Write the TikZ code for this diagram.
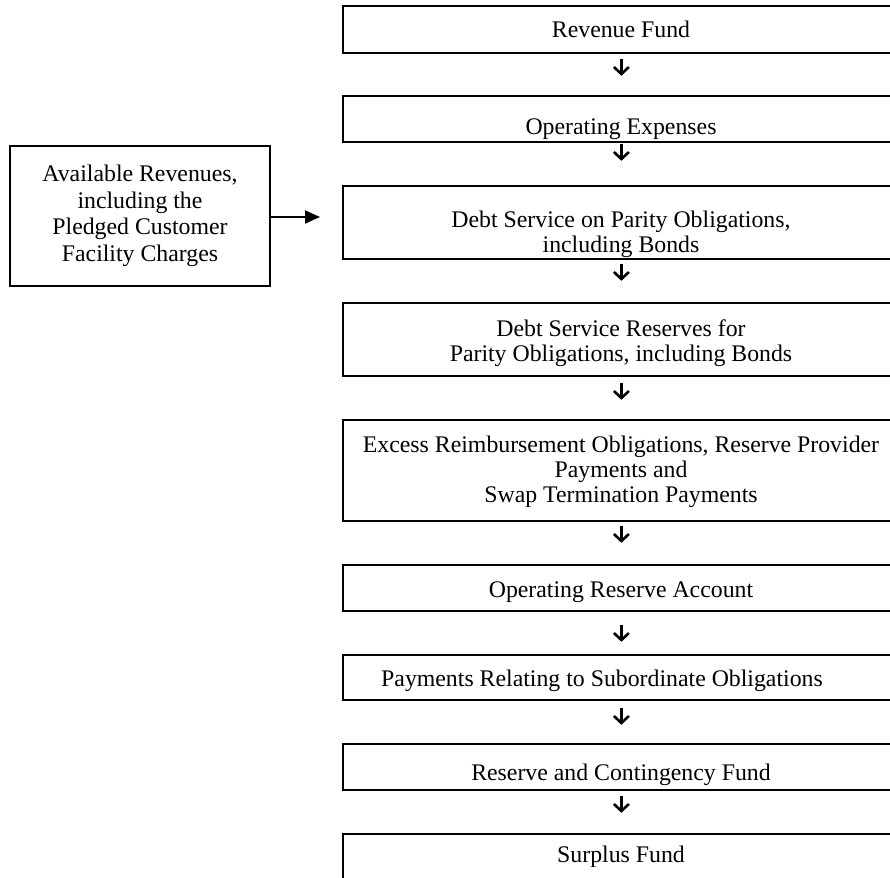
\documentclass[tikz,border=0pt]{standalone}
\usepackage{fontspec}
\setmainfont{Liberation Serif}
\usetikzlibrary{arrows.meta,calc}
\begin{document}
\begin{tikzpicture}[x=0.5pt,y=-0.5pt,
  stage/.style={draw=none,minimum width=278pt,inner sep=0pt,anchor=north west},
  edge/.style={line width=1pt,line cap=rect},
  lbl/.style={inner sep=0pt,align=center,anchor=base,font=\fontsize{11.9}{12.5}\selectfont},
  source/.style={draw,line width=1pt,minimum width=130pt,minimum height=70pt,inner sep=0pt,anchor=north west,align=center,font=\fontsize{11.9}{13.3}\selectfont},
  flowarrow/.style={line width=1.3pt,-{Straight Barb[length=3.5pt,width=7.5pt,line width=1.3pt]}},
  sidearrow/.style={line width=1pt,-{Triangle[length=7.5pt,width=6.5pt]}}]
\useasboundingbox (0,0) rectangle (890,878);
\clip (0,0) rectangle (890,878);

% stage boxes (open to the right)
\node[stage,minimum height=23pt]   (b1) at (343,6)   {};
\node[stage,minimum height=22.5pt] (b2) at (343,96)  {};
\node[stage,minimum height=36pt]   (b3) at (343,186) {};
\node[stage,minimum height=36pt]   (b4) at (343,303) {};
\node[stage,minimum height=50pt]   (b5) at (343,420) {};
\node[stage,minimum height=22.5pt] (b6) at (343,565) {};
\node[stage,minimum height=22pt]   (b7) at (343,655) {};
\node[stage,minimum height=22.5pt] (b8) at (343,744) {};
\node[stage,minimum height=23pt]   (b9) at (343,834) {};

\foreach \b in {b1,b2,b3,b4,b5,b6,b7,b8}
  \draw[edge] (\b.north east) -- (\b.north west) -- (\b.south west) -- (\b.south east);
\draw[edge] (b9.north east) -- (b9.north west) -- (b9.south west);

% labels (anchor=base is the baseline of the last line)
\node[lbl] (t1) at (621,38)  {Revenue Fund};
\node[lbl] (t2) at (621,134) {Operating Expenses};
\node[lbl] (t3) at (621,252) {Debt Service on Parity Obligations,\\including Bonds};
\node[lbl] (t4) at (621,361) {Debt Service Reserves for\\Parity Obligations, including Bonds};
\node[lbl] (t5) at (621,502) {Excess Reimbursement Obligations, Reserve Provider\\Payments and\\Swap Termination Payments};
\node[lbl] (t6) at (621,597) {Operating Reserve Account};
\node[lbl] (t7) at (602,686) {Payments Relating to Subordinate Obligations};
\node[lbl] (t8) at (621,780) {Reserve and Contingency Fund};
\node[lbl] (t9) at (621,862) {Surplus Fund};

% flow arrows
\draw[flowarrow] ($(b1.south)+(0,6)$)  -- ($(b1.south)+(0,23)$);
\draw[flowarrow] ($(b2.south)+(0,2)$)  -- ($(b2.south)+(0,19)$);
\draw[flowarrow] ($(b3.south)+(0,5)$)  -- ($(b3.south)+(0,22)$);
\draw[flowarrow] ($(b4.south)+(0,7)$)  -- ($(b4.south)+(0,24)$);
\draw[flowarrow] ($(b5.south)+(0,5)$)  -- ($(b5.south)+(0,22)$);
\draw[flowarrow] ($(b6.south)+(0,14)$) -- ($(b6.south)+(0,31)$);
\draw[flowarrow] ($(b7.south)+(0,8)$)  -- ($(b7.south)+(0,25)$);
\draw[flowarrow] ($(b8.south)+(0,6)$)  -- ($(b8.south)+(0,23)$);

% source box
\node[source] (src) at (9,145) {Available Revenues,\\including the\\Pledged Customer\\Facility Charges};
\coordinate (srctip) at (320,217);
\draw[sidearrow] (src.east |- srctip) -- (srctip);
\end{tikzpicture}
\end{document}
